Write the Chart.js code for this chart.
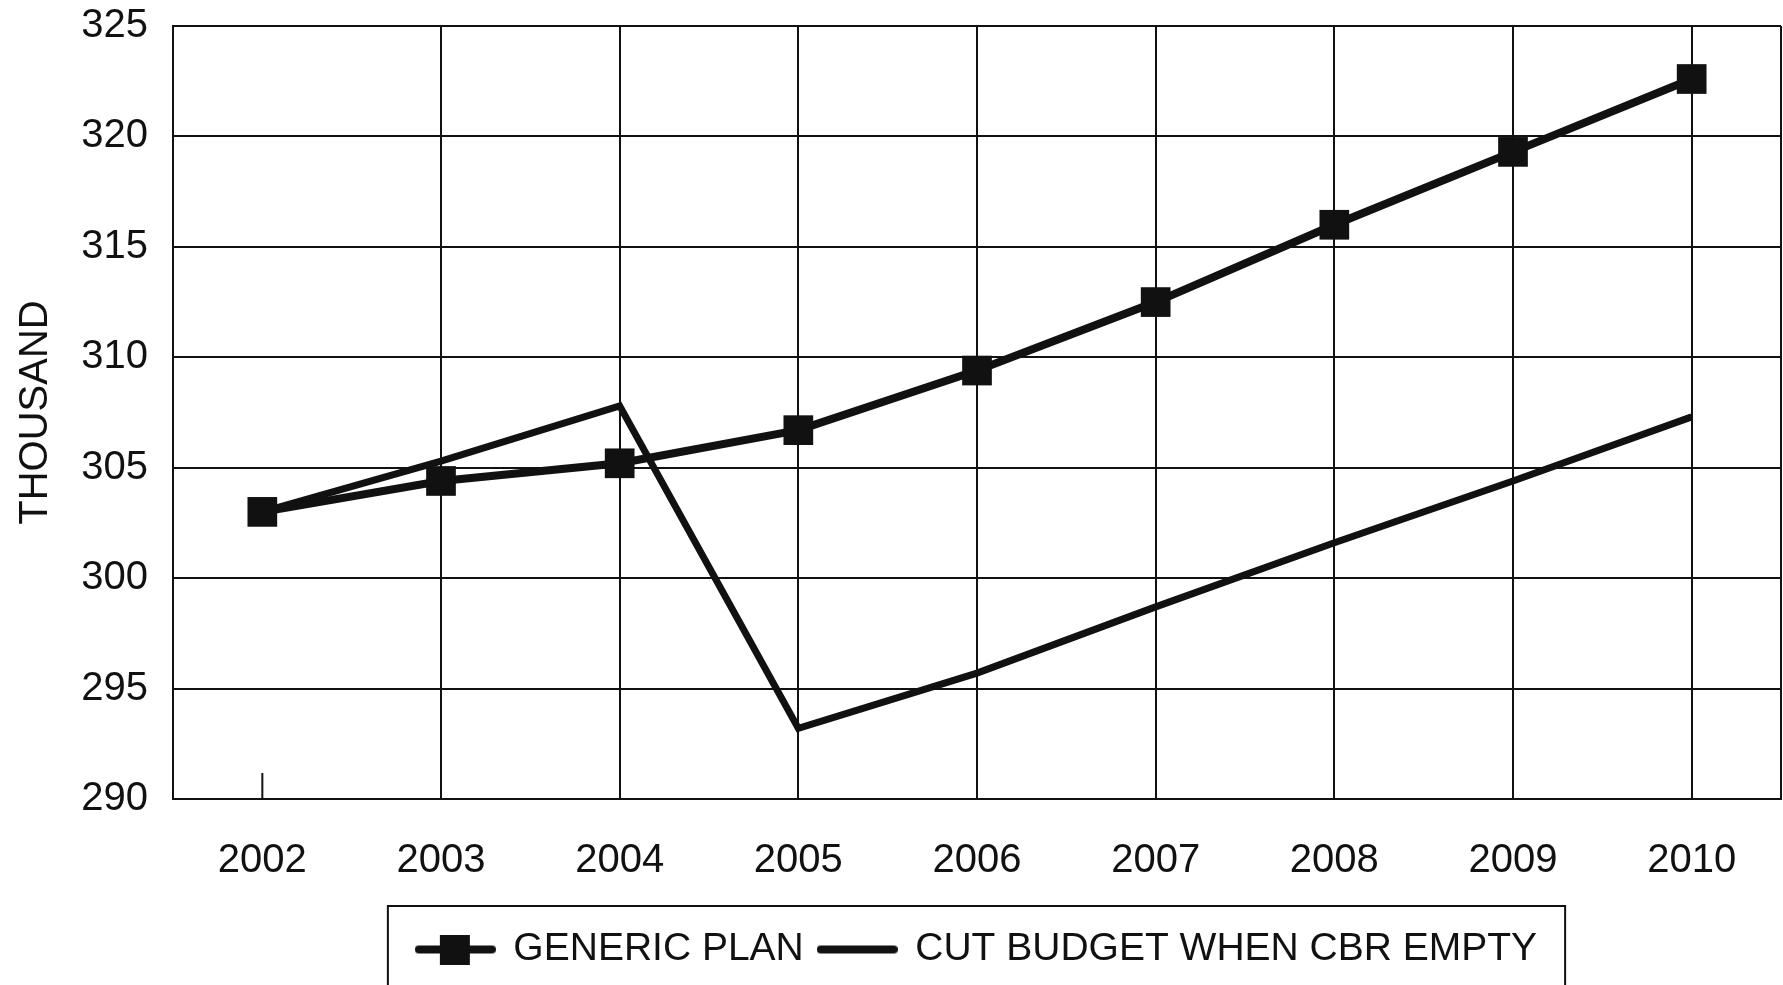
<!DOCTYPE html>
<html lang="en">
<head>
  <meta charset="UTF-8" />
  <title>Generic plan and cut budget</title>
  <style>
    html, body {
      margin: 0;
      padding: 0;
      overflow: hidden;
      background: #fff;
    }
    #wrap {
      width: 1783px;
      height: 985px;
    }
    canvas {
      display: block;
    }
  </style>
</head>
<body>
  <div id="wrap"><canvas id="planChart"></canvas></div>

  <script src="https://cdn.jsdelivr.net/npm/chart.js"></script>
  <script>
    // values in thousands
    const years = ['2002', '2003', '2004', '2005', '2006', '2007', '2008', '2009', '2010'];
    const genericPlan = [303.0, 304.4, 305.2, 306.7, 309.4, 312.5, 316.0, 319.3, 322.6];
    const cutBudget = [303.0, 305.3, 307.8, 293.2, 295.7, 298.7, 301.6, 304.4, 307.3];
    const seriesNames = ['GENERIC PLAN', 'CUT BUDGET WHEN CBR EMPTY'];
    const yMin = 290;
    const yMax = 325;
    const yStep = 5;
    const yTitle = 'THOUSAND';

    const ink = '#111';
    const family = '"Liberation Sans", Arial, sans-serif';
    const axisFont = { family: family, size: 40 };
    const legendFont = { family: family, size: 39 };

    // little line (+ square) pictures used as legend symbols
    function legendMark(withSquare) {
      const c = document.createElement('canvas');
      c.width = 81;
      c.height = 30;
      const g = c.getContext('2d');
      g.strokeStyle = ink;
      g.fillStyle = ink;
      g.lineWidth = 8;
      g.lineCap = 'round';
      g.beginPath();
      g.moveTo(4, 15);
      g.lineTo(77, 15);
      g.stroke();
      if (withSquare) g.fillRect(25, 0, 30, 30);
      return c;
    }
    const marks = [legendMark(true), legendMark(false)];

    // right edge, short first-year tick and the box round the legend
    const framePlugin = {
      id: 'frame',
      afterDraw(chart) {
        const { ctx, chartArea: a } = chart;
        const x = chart.scales.x;
        ctx.save();
        ctx.strokeStyle = ink;
        ctx.lineWidth = 2;

        ctx.beginPath();
        ctx.moveTo(a.right, a.top);
        ctx.lineTo(a.right, a.bottom);
        ctx.stroke();

        const x0 = x.getPixelForValue(0);
        ctx.beginPath();
        ctx.moveTo(x0, a.bottom);
        ctx.lineTo(x0, a.bottom - 26);
        ctx.stroke();

        const lg = chart.legend;
        const hb = lg.legendHitBoxes;
        const last = hb[hb.length - 1];
        const l = hb[0].left - 29;
        const r = last.left + last.width + 28;
        ctx.strokeRect(l, lg.top - 9, r - l, chart.height);
        ctx.restore();
      }
    };

    new Chart(document.getElementById('planChart'), {
      type: 'line',
      data: {
        labels: years,
        datasets: [
          {
            label: seriesNames[0],
            data: genericPlan,
            borderColor: ink,
            backgroundColor: ink,
            borderWidth: 8,
            pointStyle: 'rect',
            pointRadius: 21,
            pointBorderWidth: 0,
            fill: false,
            tension: 0
          },
          {
            label: seriesNames[1],
            data: cutBudget,
            borderColor: ink,
            backgroundColor: ink,
            borderWidth: 7,
            pointRadius: 0,
            fill: false,
            tension: 0
          }
        ]
      },
      options: {
        responsive: true,
        maintainAspectRatio: false,
        animation: false,
        layout: {
          autoPadding: false,
          padding: { top: 26, right: 2, bottom: 6, left: 0 }
        },
        plugins: {
          tooltip: { enabled: false },
          legend: {
            position: 'bottom',
            fullSize: false,
            labels: {
              font: legendFont,
              color: ink,
              usePointStyle: true,
              pointStyleWidth: 77,
              padding: 15,
              generateLabels: chart => chart.data.datasets.map((ds, i) => ({
                text: ds.label,
                pointStyle: marks[i],
                fillStyle: ink,
                strokeStyle: ink,
                lineWidth: 0,
                fontColor: ink,
                hidden: false,
                datasetIndex: i
              }))
            }
          }
        },
        scales: {
          x: {
            offset: true,
            grid: {
              offset: false,
              color: c => c.index === 0 ? 'rgba(0,0,0,0)' : ink,
              lineWidth: 2,
              drawTicks: false
            },
            border: { color: ink, width: 2 },
            ticks: { font: axisFont, color: ink, padding: 38, maxRotation: 0 },
            afterFit: s => {
              s.height = 116;
              s.paddingLeft = 0;
              s.paddingRight = 0;
            }
          },
          y: {
            min: yMin,
            max: yMax,
            grid: { color: ink, lineWidth: 2, drawTicks: false },
            border: { color: ink, width: 2 },
            ticks: { stepSize: yStep, font: axisFont, color: ink, padding: 25 },
            title: {
              display: true,
              text: yTitle,
              font: axisFont,
              color: ink,
              padding: { top: 12, bottom: 0 }
            },
            afterFit: s => {
              s.width = 173;
              s.paddingTop = 0;
              s.paddingBottom = 0;
            }
          }
        }
      },
      plugins: [framePlugin]
    });
  </script>
</body>
</html>
